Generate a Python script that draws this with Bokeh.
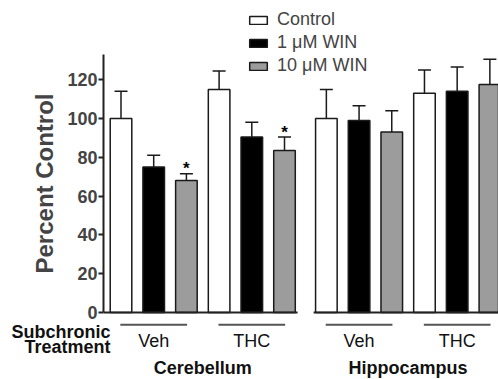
from bokeh.plotting import figure
from bokeh.models import ColumnDataSource, LinearAxis, FixedTicker, Whisker, TeeHead, Range1d
from bokeh.embed import file_html
from bokeh.resources import INLINE
from bokeh.core.properties import value

# ---- data ----
regions = ["Cerebellum", "Hippocampus"]
treatments = ["Veh", "THC", "Veh", "THC"]
series_names = ["Control", "1 \u03bcM WIN", "10 \u03bcM WIN"]
control = [100, 115, 100, 113]
win1 = [75, 90.5, 99, 114]
win10 = [68, 83.5, 93, 117.5]
err_control = [14, 9.5, 15, 12]
err_win1 = [6, 7.5, 7.5, 12.5]
err_win10 = [3.5, 7, 11, 13]
significant_win10 = [True, True, False, False]
y_ticks = [0, 20, 40, 60, 80, 100, 120]

# ---- layout constants ----
group_starts = [0, 3, 6.28, 9.28]
bar_width = 0.66
colors = ["white", "black", "#9c9c9c"]
FONT = "Liberation Sans"
axis_x = -0.532

p = figure(width=498, height=379, output_backend="svg", toolbar_location=None,
           x_range=Range1d(-3.685, 11.544), y_range=Range1d(-34.5, 160.8),
           x_axis_location=None, y_axis_location=None, min_border=0)
p.outline_line_color = None
p.grid.grid_line_color = None
p.background_fill_color = "white"

series_vals = [control, win1, win10]
series_errs = [err_control, err_win1, err_win10]
for k, (name, vals, errs, col) in enumerate(zip(series_names, series_vals, series_errs, colors)):
    xs = [g + k for g in group_starts]
    src = ColumnDataSource(dict(x=xs, top=vals, upper=[v + e for v, e in zip(vals, errs)]))
    p.vbar(x="x", top="top", width=bar_width, bottom=0, source=src,
           fill_color=col, line_color="#1a1a1a", line_width=1.5, legend_label=name)
    w = Whisker(base="x", lower="top", upper="upper", source=src,
                line_color="#1a1a1a", line_width=1.5,
                upper_head=TeeHead(size=13, line_color="#1a1a1a", line_width=1.5),
                lower_head=None)
    p.add_layout(w)

# significance stars
star_x = [g + 2 for g, s in zip(group_starts, significant_win10) if s]
star_y = [v + e for v, e, s in zip(win10, err_win10, significant_win10) if s]
p.text(x=star_x, y=[y + 2.5 for y in star_y], text=["*"] * len(star_x),
       text_font=value(FONT), text_font_style="bold", text_font_size="17px",
       text_align="center", text_baseline="alphabetic", text_color="black")

# y axis
yaxis = LinearAxis(fixed_location=axis_x, bounds=(0, 133),
                   ticker=FixedTicker(ticks=y_ticks),
                   axis_label="Percent Control",
                   axis_label_text_font=FONT, axis_label_text_font_style="bold",
                   axis_label_text_font_size="24px", axis_label_standoff=6,
                   major_label_text_font=FONT, major_label_text_font_style="bold",
                   major_label_text_font_size="18px", major_label_standoff=1,
                   major_tick_in=0, major_tick_out=5, minor_tick_out=0, minor_tick_in=0,
                   axis_line_width=2, major_tick_line_width=2,
                   axis_line_color="#222222", major_tick_line_color="#222222")
p.add_layout(yaxis, "left")

# broken baseline
p.segment(x0=[axis_x, group_starts[2] - 0.39], y0=[0, 0],
          x1=[group_starts[1] + 2 + 0.4, 11.6], y1=[0, 0],
          line_width=2, line_color="#222222")

# group lines and labels
mids = [g + 1 for g in group_starts]
p.segment(x0=[m - 1.02 for m in mids], y0=[-6.34] * 4, x1=[m + 1.02 for m in mids], y1=[-6.34] * 4,
          line_width=2, line_color="#555555")
p.text(x=mids, y=[-14.8] * 4, text=treatments, text_font=value(FONT), text_font_size="18px",
       text_align="center", text_baseline="middle", text_color="#111111")
region_x = [(group_starts[0] + group_starts[1] + 2) / 2, (group_starts[2] + group_starts[3] + 2) / 2]
p.text(x=region_x, y=[-28.4] * 2, text=regions, text_font=value(FONT), text_font_style="bold",
       text_font_size="18px", text_align="center", text_baseline="middle", text_color="#111111")
p.text(x=[-0.321, -0.321], y=[-10.15, -17.9], text=["Subchronic", "Treatment"],
       text_font=value(FONT), text_font_style="bold", text_font_size="18px",
       text_align="right", text_baseline="middle", text_color="#111111")

# legend
lg = p.legend[0]
lg.location = (247, 303)
lg.padding = 0
lg.margin = 0
lg.spacing = 2
lg.glyph_width = 22
lg.glyph_height = 10
lg.label_height = 20
lg.label_standoff = 8
lg.border_line_alpha = 0
lg.background_fill_alpha = 0
lg.label_text_font = FONT
lg.label_text_font_size = "18px"

open("out.html", "w").write(file_html(p, INLINE))
